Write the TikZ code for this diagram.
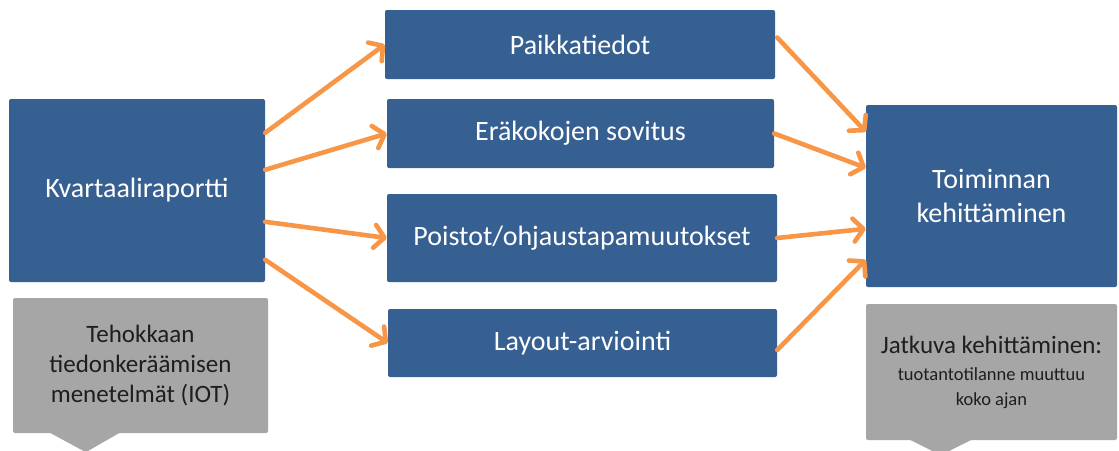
\documentclass[tikz,border=0pt]{standalone}
\usepackage{fontspec}
\setmainfont{Carlito}
\usetikzlibrary{arrows.meta,calc}
\definecolor{boxblue}{HTML}{376092}
\definecolor{notegray}{HTML}{A6A6A6}
\definecolor{flow}{HTML}{F79646}
\definecolor{notetext}{HTML}{1E1E1E}
\tikzset{
  bluebox/.style={fill=boxblue, rounded corners=2pt, text=white, align=center,
    inner sep=0pt, font=\fontsize{28}{34}\selectfont},
  notebox/.style={fill=notegray, rounded corners=2pt, text=notetext, align=center,
    inner sep=0pt, font=\fontsize{25}{30}\selectfont},
  flowarrow/.style={draw=flow, line width=4.6pt, line cap=round,
    -{Straight Barb[round, length=10pt, width=23pt]}},
}
\begin{document}
\begin{tikzpicture}[x=1pt, y=-1pt]
  \useasboundingbox (0,0) rectangle (1119,450);
  \clip (0,0) rectangle (1119,450);
  \fill[white] (0,0) rectangle (1119,450);

  % source, steps and goal
  \node[bluebox, minimum width=256pt, minimum height=183pt] (K) at (137,190.5) {Kvartaaliraportti};
  \node[bluebox, minimum width=390pt, minimum height=69pt] (P1) at (580,44.5) {Paikkatiedot};
  \node[bluebox, minimum width=387pt, minimum height=69pt] (P2) at (580.5,133.5) {Eräkokojen sovitus};
  \node[bluebox, minimum width=390pt, minimum height=88pt] (P3) at (582,238) {Poistot/ohjaustapamuutokset};
  \node[bluebox, minimum width=389pt, minimum height=68pt] (P4) at (582.5,343) {Layout-arviointi};
  \node[bluebox, minimum width=251pt, minimum height=182pt] (T) at (991.5,196) {Toiminnan\\kehittäminen};

  % callout notes with downward pointers
  \node[notebox, minimum width=255pt, minimum height=135pt] (G1) at (140.5,365.5)
    {Tehokkaan\\tiedonkeräämisen\\menetelmät (IOT)};
  \fill[notegray] ($(G1.south west)+(37,-0.5)$) -- ($(G1.south west)+(107,-0.5)$)
    -- ($(G1.south west)+(73,19)$) -- cycle;
  \node[notebox, minimum width=251pt, minimum height=136pt] (G2) at (991.5,372)
    {Jatkuva kehittäminen:\\[-3pt]{\fontsize{18.5}{23}\selectfont tuotantotilanne muuttuu}\\[-5pt]{\fontsize{18.5}{23}\selectfont koko ajan}};
  \fill[notegray] ($(G2.south west)+(44,-0.5)$) -- ($(G2.south west)+(106,-0.5)$)
    -- ($(G2.south west)+(75,15)$) -- cycle;

  % flow from the report to the steps
  \draw[flowarrow] ($(K.north east)+(0,34)$) -- (P1.west);
  \draw[flowarrow] ($(K.north east)+(0,71)$) -- (P2.west);
  \draw[flowarrow] ($(K.north east)+(0,123)$) -- (P3.west);
  \draw[flowarrow] ($(K.north east)+(0,161)$) -- (P4.west);

  % flow from the steps to the goal
  \draw[flowarrow] ($(P1.east)+(2,-7)$) -- ($(T.north west)+(0,27)$);
  \draw[flowarrow] (P2.east) -- ($(T.north west)+(0,63)$);
  \draw[flowarrow] (P3.east) -- ($(T.north west)+(0,124)$);
  \draw[flowarrow] ($(P4.east)+(0,7)$) -- ($(T.north west)+(0,155)$);
\end{tikzpicture}
\end{document}
